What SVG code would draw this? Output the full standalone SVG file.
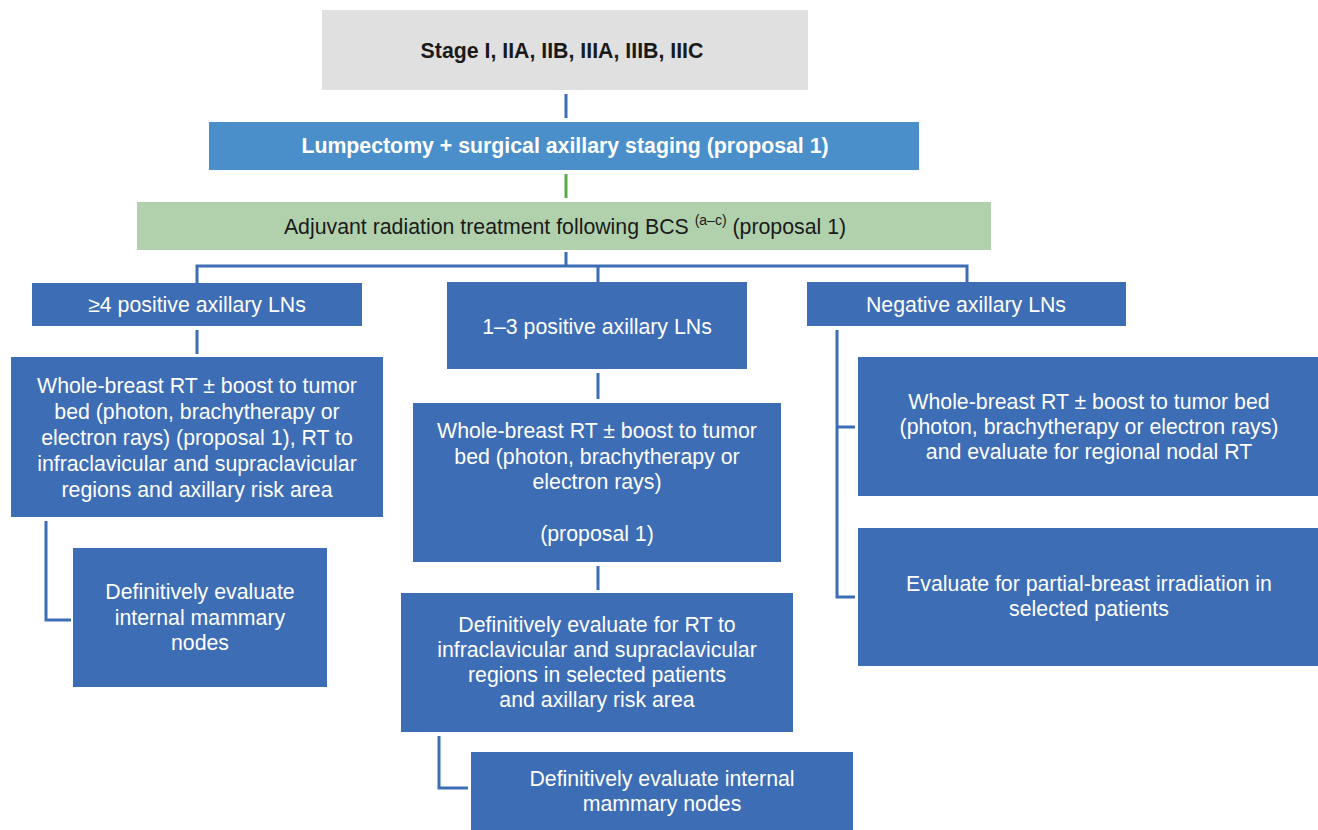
<svg xmlns="http://www.w3.org/2000/svg" width="1318" height="830" viewBox="0 0 1318 830">
  <style>
    text { font-family: "Liberation Sans", Arial, sans-serif; font-size: 21.3px; text-anchor: middle; }
    .box { fill: #3d6db4; }
    .lt { fill: #ffffff; }
    .dk { fill: #1a1a1a; }
    .bold { font-weight: bold; }
    .conn { fill: none; stroke: #3d6db4; stroke-width: 3; }
    .conn-g { fill: none; stroke: #5aa84a; stroke-width: 3; }
  </style>
  <rect width="1318" height="830" fill="#ffffff"/>

  <g id="connectors">
    <line class="conn" x1="566" y1="94" x2="566" y2="118"/>
    <line class="conn-g" x1="566" y1="174" x2="566" y2="198"/>
    <path class="conn" d="M566 252 V266 M197 284 V266 H967 V284 M598 266 V282"/>
    <line class="conn" x1="197" y1="330" x2="197" y2="354"/>
    <path class="conn" d="M46 521 V620 H71"/>
    <line class="conn" x1="598" y1="373" x2="598" y2="399"/>
    <line class="conn" x1="598" y1="566" x2="598" y2="590"/>
    <path class="conn" d="M439 736 V788 H468"/>
    <path class="conn" d="M837 330 V597 H855 M837 427 H855"/>
  </g>

  <g id="stage">
    <rect x="322" y="10" width="486" height="80" fill="#e0e0e0"/>
    <text class="dk bold" x="562" y="58" font-size="22">Stage I, IIA, IIB, IIIA, IIIB, IIIC</text>
  </g>

  <g id="lumpectomy">
    <rect x="209" y="122" width="710" height="48" fill="#4a8fc9"/>
    <text class="lt bold" x="565" y="153">Lumpectomy + surgical axillary staging (proposal 1)</text>
  </g>

  <g id="adjuvant">
    <rect x="137" y="202" width="854" height="48" fill="#b1d1ad"/>
    <text class="dk" x="565" y="234">Adjuvant radiation treatment following BCS <tspan font-size="14" dy="-9">(a–c)</tspan><tspan dy="9"> (proposal 1)</tspan></text>
  </g>

  <g id="ln-4plus">
    <rect class="box" x="32" y="283" width="330" height="43"/>
    <text class="lt" x="197" y="312">≥4 positive axillary LNs</text>
  </g>

  <g id="wbrt-4plus">
    <rect class="box" x="11" y="357" width="372" height="160"/>
    <text class="lt" x="197" y="393">Whole-breast RT ± boost to tumor</text>
    <text class="lt" x="197" y="419">bed (photon, brachytherapy or</text>
    <text class="lt" x="197" y="445">electron rays) (proposal 1), RT to</text>
    <text class="lt" x="197" y="471">infraclavicular and supraclavicular</text>
    <text class="lt" x="197" y="497">regions and axillary risk area</text>
  </g>

  <g id="imn-4plus">
    <rect class="box" x="73" y="548" width="254" height="139"/>
    <text class="lt" x="200" y="599">Definitively evaluate</text>
    <text class="lt" x="200" y="625">internal mammary</text>
    <text class="lt" x="200" y="650">nodes</text>
  </g>

  <g id="ln-1to3">
    <rect class="box" x="447" y="282" width="300" height="87"/>
    <text class="lt" x="597" y="334">1–3 positive axillary LNs</text>
  </g>

  <g id="wbrt-1to3">
    <rect class="box" x="413" y="403" width="368" height="159"/>
    <text class="lt" x="597" y="438">Whole-breast RT ± boost to tumor</text>
    <text class="lt" x="597" y="464">bed (photon, brachytherapy or</text>
    <text class="lt" x="597" y="489">electron rays)</text>
    <text class="lt" x="597" y="541">(proposal 1)</text>
  </g>

  <g id="nodal-1to3">
    <rect class="box" x="401" y="593" width="392" height="139"/>
    <text class="lt" x="597" y="632">Definitively evaluate for RT to</text>
    <text class="lt" x="597" y="657">infraclavicular and supraclavicular</text>
    <text class="lt" x="597" y="682">regions in selected patients</text>
    <text class="lt" x="597" y="707">and axillary risk area</text>
  </g>

  <g id="imn-1to3">
    <rect class="box" x="471" y="752" width="382" height="78"/>
    <text class="lt" x="662" y="786">Definitively evaluate internal</text>
    <text class="lt" x="662" y="811">mammary nodes</text>
  </g>

  <g id="ln-negative">
    <rect class="box" x="807" y="282" width="319" height="44"/>
    <text class="lt" x="966" y="312">Negative axillary LNs</text>
  </g>

  <g id="wbrt-negative">
    <rect class="box" x="858" y="357" width="460" height="139"/>
    <text class="lt" x="1089" y="409">Whole-breast RT ± boost to tumor bed</text>
    <text class="lt" x="1089" y="434">(photon, brachytherapy or electron rays)</text>
    <text class="lt" x="1089" y="459">and evaluate for regional nodal RT</text>
  </g>

  <g id="apbi-negative">
    <rect class="box" x="858" y="528" width="460" height="138"/>
    <text class="lt" x="1089" y="591">Evaluate for partial-breast irradiation in</text>
    <text class="lt" x="1089" y="616">selected patients</text>
  </g>
</svg>
